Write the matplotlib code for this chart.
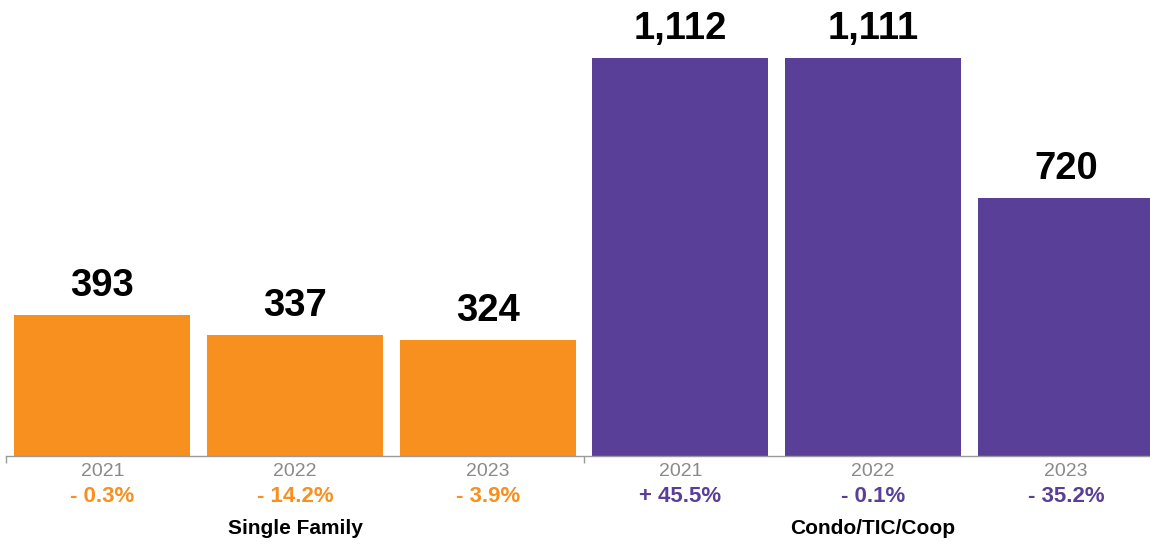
import matplotlib.pyplot as plt
import matplotlib.transforms as mtransforms

groups = ['Single Family', 'Condo/TIC/Coop']
years = ['2021', '2022', '2023', '2021', '2022', '2023']
values = [393, 337, 324, 1112, 1111, 720]
changes = ['- 0.3%', '- 14.2%', '- 3.9%', '+ 45.5%', '- 0.1%', '- 35.2%']

orange = '#F7901E'
purple = '#5A3F99'
colors = [orange] * 3 + [purple] * 3

plt.rcParams['font.family'] = ['Liberation Sans', 'DejaVu Sans']

fig = plt.figure(figsize=(11.5, 5.44), dpi=100)
ax = fig.add_axes([6 / 1150, 88 / 544, 6 * 192.7 / 1150, 456 / 544])

xs = list(range(len(values)))
ax.bar(xs, values, width=0.913, color=colors)
ax.set_xlim(-0.5, 5.5)
ax.set_ylim(0, 1274)

for s in ['top', 'right', 'left']:
    ax.spines[s].set_visible(False)
ax.spines['bottom'].set_color('#9a9a9a')
ax.spines['bottom'].set_linewidth(1)
ax.set_yticks([])
ax.set_xticks([-0.5, 2.5])
ax.set_xticklabels([])
ax.tick_params(axis='x', length=5, color='#9a9a9a', width=1)

for x, v in zip(xs, values):
    ax.annotate(f'{v:,}', (x, v), xytext=(0, 14), textcoords='offset points',
                ha='center', va='baseline', fontsize=27.5, fontweight='bold', color='black')

trans = mtransforms.blended_transform_factory(ax.transData, fig.transFigure)
for x, yr, ch, c in zip(xs, years, changes, colors):
    ax.text(x, 1 - 471 / 544, yr, transform=trans, ha='center', va='center',
            fontsize=14, color='#8a8a8a')
    ax.text(x, 1 - 497 / 544, ch, transform=trans, ha='center', va='center',
            fontsize=16, fontweight='bold', color=c)

for i, g in enumerate(groups):
    ax.text(1 + 3 * i, 1 - 529 / 544, g, transform=trans, ha='center', va='center',
            fontsize=15, fontweight='bold', color='black')

fig.savefig('out.png', dpi=100)
